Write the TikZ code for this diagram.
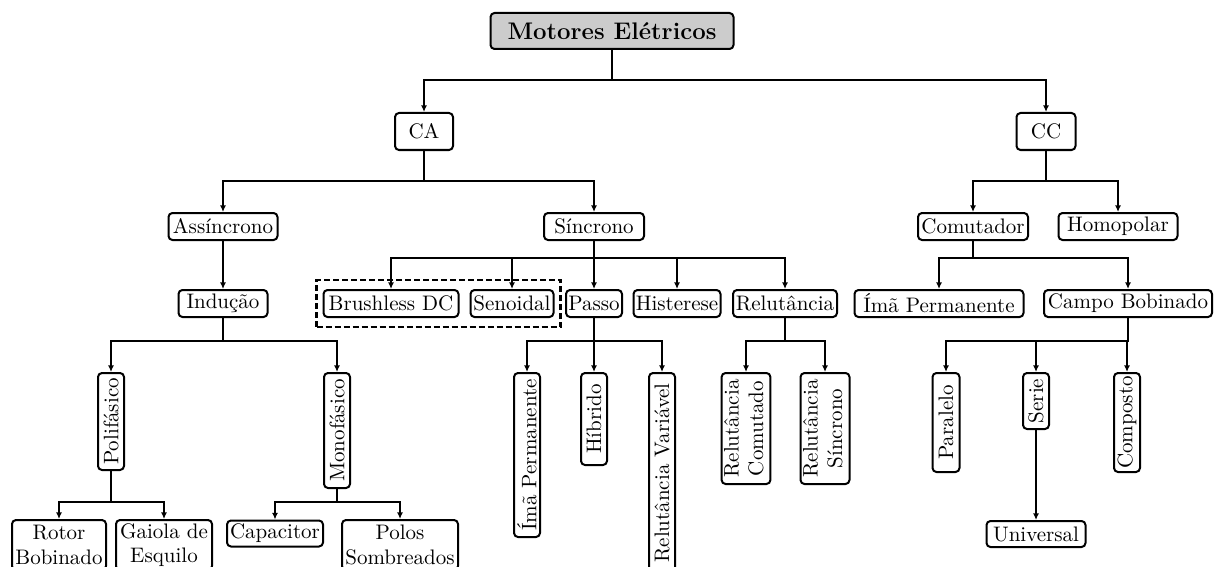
\documentclass[tikz,border=0pt]{standalone}
\usepackage{fontspec}
\usepackage{graphicx}
\usetikzlibrary{arrows.meta,fit}
\newcommand\vtxt[1]{\rotatebox{90}{#1}}
\newcommand\vtwo[2]{\rotatebox{90}{\begin{tabular}{@{}c@{}}#1\\#2\end{tabular}}}
\begin{document}
\begin{tikzpicture}[x=0.5pt,y=-0.5pt,
  every node/.style={font=\fontsize{10.5pt}{12.2pt}\selectfont},
  bx/.style={draw, rounded corners=2pt, line width=1pt, inner sep=0pt, align=center, fill=white},
  arr/.style={-{Latex[length=3.3pt,width=3pt]}, line width=1pt},
  grp/.style={draw, dash pattern=on 3pt off 1.5pt, line width=1.1pt, inner xsep=3pt, inner ysep=4.5pt},
  hd/.style={bx, fill=black!20, line width=1pt}]
\useasboundingbox (0,0) rectangle (1215,567);
% nodes
\node[hd, minimum width=121.5pt, minimum height=18pt] (title) at (612,31) {\fontsize{12pt}{14pt}\selectfont\bfseries Motores Elétricos};
\node[bx, minimum width=29pt, minimum height=18.5pt] (ca) at (424,131.5) {CA};
\node[bx, minimum width=29.5pt, minimum height=18.5pt] (cc) at (1046,131.5) {CC};
\node[bx, minimum width=54.5pt, minimum height=13.5pt] (asinc) at (223,226.5) {Assíncrono};
\node[bx, minimum width=50pt, minimum height=13.5pt] (sinc) at (594,226.5) {Síncrono};
\node[bx, minimum width=55pt, minimum height=13.5pt] (comut) at (973,226.5) {Comutador};
\node[bx, minimum width=59.5pt, minimum height=13.5pt] (homo) at (1118,226.5) {Homopolar};
\node[bx, minimum width=44.5pt, minimum height=13.5pt] (ind) at (223,303.5) {Indução};
\node[bx, minimum width=67.5pt, minimum height=13.5pt] (bldc) at (391,303.5) {Brushless DC};
\node[bx, minimum width=41.5pt, minimum height=13.5pt] (senoid) at (512,303.5) {Senoidal};
\node[bx, minimum width=28pt, minimum height=13.5pt] (passo) at (594,303.5) {Passo};
\node[bx, minimum width=43.5pt, minimum height=13.5pt] (hist) at (677,303.5) {Histerese};
\node[bx, minimum width=52pt, minimum height=13.5pt] (relut) at (785,303.5) {Relutância};
\node[bx, minimum width=84.5pt, minimum height=13.5pt] (imacc) at (939,303.5) {Ímã Permanente};
\node[bx, minimum width=84pt, minimum height=13.5pt] (campo) at (1128,303.5) {Campo Bobinado};
\node[grp, fit=(bldc)(senoid)] (grupo) {};
% vertical nodes
\node[bx, minimum width=13pt, minimum height=48.5pt] (poli) at (111,421.5) {\vtxt{Polifásico}};
\node[bx, minimum width=13pt, minimum height=57.5pt] (mono) at (337,430.5) {\vtxt{Monofásico}};
\node[bx, minimum width=13pt, minimum height=82pt] (imav) at (527,455) {\vtxt{Ímã Permanente}};
\node[bx, minimum width=13pt, minimum height=46pt] (hib) at (594,419) {\vtxt{Híbrido}};
\node[bx, minimum width=13pt, minimum height=100pt] (relvar) at (662,473) {\vtxt{Relutância Variável}};
\node[bx, minimum width=24pt, minimum height=55.5pt] (relcom) at (746,428.5) {\vtwo{Relutância}{Comutado}};
\node[bx, minimum width=24.5pt, minimum height=55.5pt] (relsin) at (825,428.5) {\vtwo{Relutância}{Síncrono}};
\node[bx, minimum width=13.5pt, minimum height=49.5pt] (paral) at (946,422.5) {\vtxt{Paralelo}};
\node[bx, minimum width=13pt, minimum height=28pt] (serie) at (1036,401) {\vtxt{Serie}};
\node[bx, minimum width=13pt, minimum height=49.5pt] (comp) at (1127,422.5) {\vtxt{Composto}};
\node[bx, minimum width=49.5pt, minimum height=13pt] (univ) at (1036,534) {Universal};
\node[bx, minimum width=47pt, minimum height=25pt] (rotor) at (59,545) {Rotor\\Bobinado};
\node[bx, minimum width=48pt, minimum height=25pt] (gaiola) at (164,545) {Gaiola de\\Esquilo};
\node[bx, minimum width=48pt, minimum height=13pt] (capac) at (275,533.5) {Capacitor};
\node[bx, minimum width=58pt, minimum height=25pt] (polos) at (400,545) {Polos\\Sombreados};
% bus levels
\coordinate (b1) at (0,80);
\coordinate (b2) at (0,181);
\coordinate (b3) at (0,258);
\coordinate (b4) at (0,341);
\coordinate (b5) at (0,502);
% connectors
\foreach \p/\c/\b in {title/ca/b1, title/cc/b1,
  ca/asinc/b2, ca/sinc/b2, cc/comut/b2, cc/homo/b2,
  sinc/bldc/b3, sinc/senoid/b3, sinc/passo/b3, sinc/hist/b3, sinc/relut/b3,
  comut/imacc/b3, comut/campo/b3,
  ind/poli/b4, ind/mono/b4, passo/imav/b4, passo/hib/b4, passo/relvar/b4,
  relut/relcom/b4, relut/relsin/b4, campo/paral/b4, campo/serie/b4, campo/comp/b4,
  poli/rotor/b5, poli/gaiola/b5, mono/capac/b5, mono/polos/b5}
  \draw[arr] (\p.south) -- (\p.south |- \b) -| (\c.north);
\draw[arr] (asinc) -- (ind);
\draw[arr] (serie) -- (univ);
\end{tikzpicture}
\end{document}
